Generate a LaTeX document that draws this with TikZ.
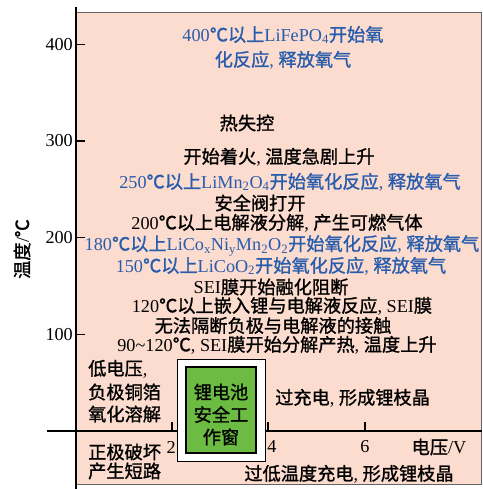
\documentclass[tikz,border=0pt]{standalone}
\usepackage{fontspec}
\setmainfont{Liberation Serif}
\newfontfamily\cjk[FakeBold=1.2]{Noto Sans CJK SC}
\newcommand\zh[1]{{\cjk #1}}
\definecolor{pinkbg}{RGB}{252,220,206}
\definecolor{greenwin}{RGB}{108,187,66}
\definecolor{bluetxt}{RGB}{40,92,172}
\definecolor{edgegray}{RGB}{100,100,100}
\tikzset{
  txt/.style={inner sep=0pt, font=\fontsize{18.2}{20}\selectfont, text=black},
  bl/.style={txt, text=bluetxt},
  axisline/.style={line width=1.8pt, black},
  tickline/.style={line width=1.2pt, black},
}
\begin{document}
\begin{tikzpicture}[x=1pt,y=-1pt]
\useasboundingbox (0,0) rectangle (482,489);
% background panel
\coordinate (pTL) at (76,12);
\coordinate (pBR) at (481,484);
\draw[fill=pinkbg, draw=edgegray, line width=0.8pt] (pTL) rectangle (pBR);
% axes
\coordinate (yT) at (76,7);
\coordinate (yB) at (76,489);
\coordinate (xL) at (47,431);
\coordinate (xR) at (482,431);
\draw[axisline] (yT) -- (yB);
\draw[line width=1.4pt] (xL) -- (xR);
% y ticks
\foreach \v/\yy in {400/44.2,300/141,200/237.6,100/334.3}{
  \coordinate (yt\v) at (76,\yy);
  \coordinate (ye\v) at (85,\yy);
  \draw[tickline] (yt\v) -- (ye\v);
  \node[txt, anchor=east] (yl\v) at (73,\yy) {\v};
}
% x ticks
\foreach \v/\xx in {2/172,4/268,6/365}{
  \coordinate (xt\v) at (\xx,431);
  \coordinate (xe\v) at (\xx,422);
  \draw[tickline] (xt\v) -- (xe\v);
}
\node[txt, anchor=east] (xl2) at (176,447) {2};
\node[txt] (xl4) at (272,447) {4};
\node[txt] (xl6) at (365,447) {6};
\node[txt] (xunit) at (439,447) {\zh{电压}/V};
\node[txt, rotate=90] (yunit) at (22,249) {\zh{温度}/\zh{℃}};
% safe window
\coordinate (wTL) at (177,359);
\coordinate (wBR) at (265,461);
\draw[fill=white, draw=black, line width=1pt] (wTL) rectangle (wBR);
\coordinate (gTL) at (186,367);
\coordinate (gBR) at (256,453);
\draw[fill=greenwin, draw=black, line width=1.3pt] (gTL) rectangle (gBR);
\node[txt] (g1) at (221,392) {\zh{锂电池}};
\node[txt] (g2) at (221,414.5) {\zh{安全工}};
\node[txt] (g3) at (221,437) {\zh{作窗}};
% blue texts
\node[bl] (b1) at (283,35) {400\zh{℃以上}LiFePO\textsubscript{4}\zh{开始氧}};
\node[bl] (b2) at (283,60) {\zh{化反应}, \zh{释放氧气}};
\node[bl] (b3) at (290,182) {250\zh{℃以上}LiMn\textsubscript{2}O\textsubscript{4}\zh{开始氧化反应}, \zh{释放氧气}};
\node[bl] (b4) at (282,245.5) {180\zh{℃以上}LiCo\textsubscript{x}Ni\textsubscript{y}Mn\textsubscript{2}O\textsubscript{2}\zh{开始氧化反应}, \zh{释放氧气}};
\node[bl] (b5) at (281,266) {150\zh{℃以上}LiCoO\textsubscript{2}\zh{开始氧化反应}, \zh{释放氧气}};
% black texts
\node[txt] (k1) at (247,123) {\zh{热失控}};
\node[txt] (k2) at (279,157) {\zh{开始着火}, \zh{温度急剧上升}};
\node[txt] (k3) at (260,203) {\zh{安全阀打开}};
\node[txt] (k4) at (277,223) {200\zh{℃以上电解液分解}, \zh{产生可燃气体}};
\node[txt] (k5) at (271,287) {SEI\zh{膜开始融化阻断}};
\node[txt] (k6) at (282,306) {120\zh{℃以上嵌入锂与电解液反应}, SEI\zh{膜}};
\node[txt] (k7) at (273,325.5) {\zh{无法隔断负极与电解液的接触}};
\node[txt] (k8) at (277,345) {90\textasciitilde120\zh{℃}, SEI\zh{膜开始分解产热}, \zh{温度上升}};
% left texts
\node[txt, anchor=west] (l1) at (88,369) {\zh{低电压},};
\node[txt, anchor=west] (l2) at (88,392) {\zh{负极铜箔}};
\node[txt, anchor=west] (l3) at (88,414) {\zh{氧化溶解}};
\node[txt, anchor=west] (l4) at (88,452) {\zh{正极破坏}};
\node[txt, anchor=west] (l5) at (88,471) {\zh{产生短路}};
% right texts
\node[txt, anchor=west] (r1) at (275,398) {\zh{过充电}, \zh{形成锂枝晶}};
\node[txt] (r2) at (349,474) {\zh{过低温度充电}, \zh{形成锂枝晶}};
\end{tikzpicture}
\end{document}
